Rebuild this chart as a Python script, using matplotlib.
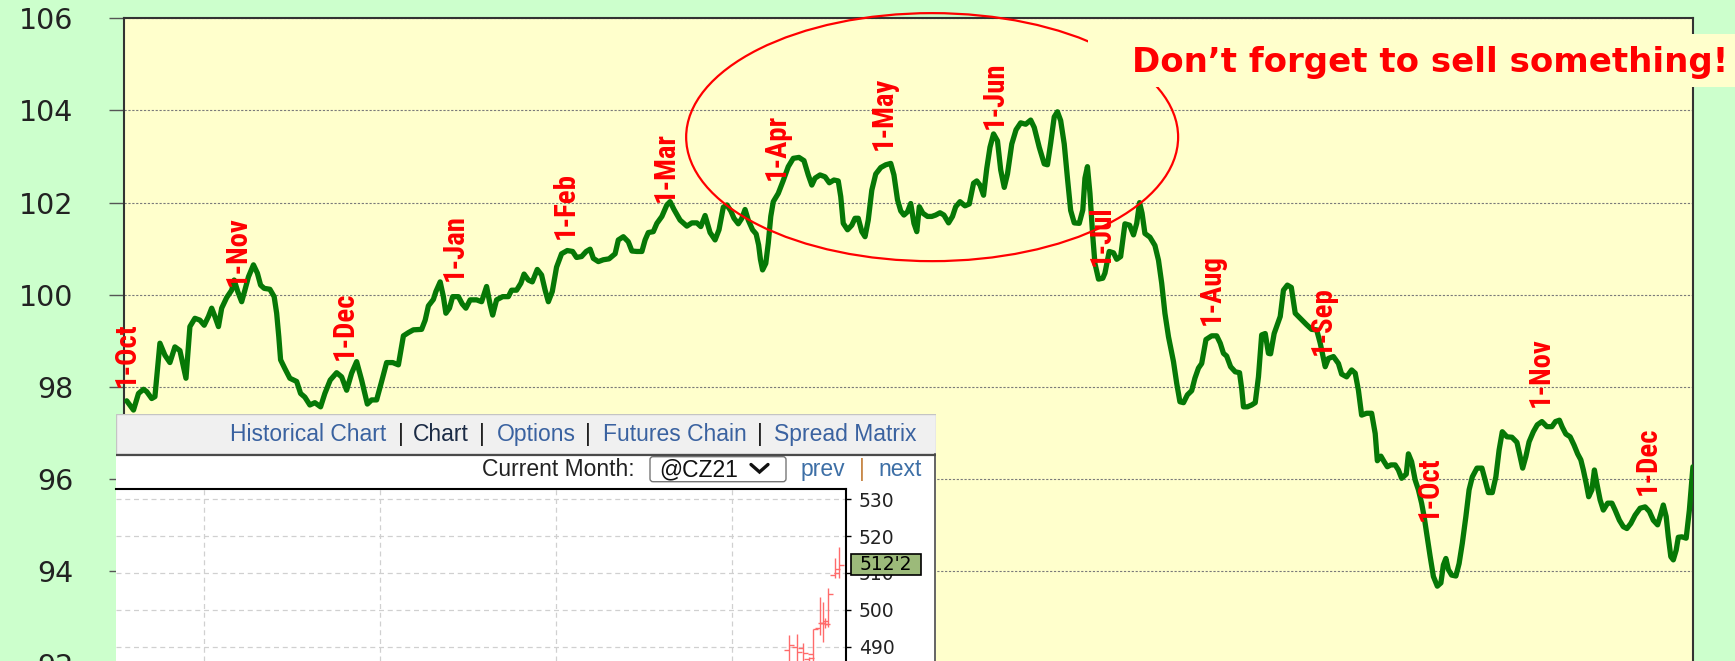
import matplotlib
matplotlib.use("Agg")
import matplotlib.pyplot as plt
import matplotlib.patches as mpatches
import matplotlib.transforms as mtransforms
from matplotlib.font_manager import FontProperties, findfont
import pandas as pd

# ---------------- data ----------------
start_date = pd.Timestamp("2020-10-01")

days = [
    0, 1.9, 3.3, 4.7, 5.6, 7.0, 7.9, 9.3, 10.7, 12.1,
    13.5, 14.9, 16.6, 17.7, 19.1, 20.5, 21.7, 22.9, 23.8, 24.7,
    25.7, 26.6, 28.0, 29.4, 30.1, 31.1, 32.2, 33.1, 34.1, 35.5,
    36.6, 37.5, 38.5, 40.1, 41.3, 42.0, 42.6, 43.1, 44.3, 45.7,
    47.6, 48.7, 49.9, 51.3, 52.7, 54.3, 55.5, 57.0, 58.8, 60.2,
    61.6, 63.0, 64.4, 65.8, 67.4, 68.6, 70.0, 71.4, 72.8, 74.5,
    76.1, 77.5, 78.9, 80.3, 82.6, 83.6, 84.5, 85.9, 86.6, 87.8,
    88.7, 89.4, 90.4, 91.3, 92.9, 94.0, 95.0, 96.2, 98.0, 99.4,
    100.8, 101.8, 102.5, 103.6, 105.3, 106.9, 107.8, 109.2, 110.4, 111.3,
    112.5, 113.6, 115.0, 116.2, 117.2, 118.1, 119.2, 120.4, 121.8, 123.4,
    124.9, 126.0, 127.4, 128.7, 129.8, 130.7, 132.1, 133.5, 135.1, 136.8,
    137.7, 139.1, 140.5, 141.5, 142.9, 144.3, 145.2, 146.1, 147.5, 148.5,
    149.9, 151.3, 152.2, 153.3, 155.0, 156.9, 158.3, 159.7, 160.8, 162.0,
    163.4, 164.8, 165.9, 167.1, 168.1, 169.2, 170.1, 171.3, 172.3, 173.2,
    174.1, 175.3, 176.3, 177.0, 177.5, 178.1, 179.0, 179.7, 180.4, 181.1,
    182.5, 183.9, 185.3, 186.7, 188.3, 189.7, 190.9, 191.9, 192.8, 194.2,
    195.6, 196.8, 198.1, 199.3, 200.0, 200.7, 201.9, 203.1, 204.0, 204.9,
    205.9, 206.8, 207.7, 208.7, 209.8, 211.2, 212.6, 214.0, 214.9, 215.9,
    216.8, 217.7, 218.7, 219.6, 220.5, 221.3, 222.0, 223.0, 224.3, 225.5,
    226.6, 227.8, 228.9, 230.2, 231.3, 232.2, 233.4, 234.8, 236.0, 237.2,
    238.1, 239.0, 240.0, 240.9, 241.8, 242.8, 243.9, 244.8, 245.8, 246.7,
    247.9, 249.1, 250.4, 251.8, 253.2, 254.2, 255.6, 257.0, 257.9, 258.8,
    259.8, 260.7, 261.6, 262.6, 263.5, 264.4, 265.4, 266.8, 267.8, 268.4,
    269.1, 269.8, 270.6, 271.2, 272.2, 273.4, 274.0, 275.2, 276.4, 277.3,
    278.4, 279.6, 280.9, 282.0, 282.9, 283.7, 284.4, 285.2, 286.6, 288.0,
    289.0, 289.9, 290.8, 291.8, 293.2, 294.1, 295.0, 296.0, 297.1, 298.3,
    299.2, 300.2, 301.1, 302.3, 303.9, 305.3, 306.3, 307.2, 308.1, 309.2,
    310.5, 311.7, 312.3, 312.8, 313.9, 315.1, 316.1, 317.0, 317.9, 318.9,
    319.8, 320.4, 321.4, 322.1, 323.1, 324.0, 325.1, 326.2, 327.3, 328.7,
    330.5, 331.9, 333.3, 334.3, 335.7, 336.6, 338.0, 339.4, 340.3, 341.7,
    343.1, 344.1, 345.0, 345.9, 347.3, 348.7, 349.7, 350.3, 351.3, 352.2,
    353.1, 354.1, 355.3, 356.2, 357.1, 358.4, 359.0, 359.9, 360.9, 361.8,
    362.7, 363.4, 364.1, 365.1, 366.0, 367.1, 368.1, 368.8, 369.5, 370.2,
    371.1, 372.3, 373.2, 374.1, 375.1, 376.0, 376.9, 378.2, 379.6, 380.5,
    381.4, 382.5, 383.5, 384.4, 385.3, 386.6, 388.0, 389.4, 390.1, 391.0,
    391.9, 392.8, 394.0, 395.1, 396.4, 397.8, 399.2, 400.2, 401.3, 402.1,
    403.1, 404.3, 405.4, 406.4, 407.3, 408.0, 408.8, 409.5, 410.4, 411.1,
    411.8, 412.7, 413.6, 414.8, 416.0, 416.9, 418.1, 419.2, 420.2, 421.3,
    422.5, 423.9, 425.3, 426.5, 427.6, 428.8, 429.5, 430.4, 431.2, 431.8,
    432.5, 433.2, 434.0, 434.6, 435.6, 436.8, 437.7, 438.7,
]

index_values = [
    97.70, 97.50, 97.86, 97.95, 97.90, 97.75, 97.79, 98.95, 98.69, 98.53,
    98.87, 98.79, 98.19, 99.31, 99.49, 99.45, 99.34, 99.53, 99.71, 99.53,
    99.31, 99.71, 99.94, 100.10, 100.32, 100.07, 99.85, 100.10, 100.39, 100.65,
    100.47, 100.21, 100.14, 100.12, 99.96, 99.60, 99.09, 98.59, 98.40, 98.19,
    98.12, 97.86, 97.78, 97.61, 97.66, 97.57, 97.86, 98.15, 98.31, 98.22,
    97.93, 98.30, 98.55, 98.15, 97.63, 97.72, 97.72, 98.12, 98.53, 98.53,
    98.48, 99.11, 99.18, 99.24, 99.25, 99.45, 99.76, 99.90, 100.07, 100.28,
    99.96, 99.60, 99.71, 99.96, 99.96, 99.80, 99.71, 99.89, 99.89, 99.85,
    100.18, 99.78, 99.56, 99.89, 99.96, 99.96, 100.10, 100.10, 100.25, 100.45,
    100.32, 100.28, 100.55, 100.43, 100.10, 99.85, 100.07, 100.60, 100.89, 100.96,
    100.94, 100.81, 100.83, 100.94, 100.99, 100.79, 100.72, 100.76, 100.78, 100.89,
    101.19, 101.26, 101.15, 100.95, 100.94, 100.94, 101.19, 101.35, 101.37, 101.55,
    101.70, 101.95, 102.02, 101.85, 101.62, 101.49, 101.56, 101.56, 101.48, 101.72,
    101.35, 101.19, 101.41, 101.90, 101.95, 101.82, 101.66, 101.54, 101.66, 101.85,
    101.62, 101.41, 101.32, 101.08, 100.77, 100.54, 100.68, 101.12, 101.70, 102.02,
    102.20, 102.48, 102.78, 102.96, 102.98, 102.91, 102.60, 102.38, 102.53, 102.60,
    102.56, 102.43, 102.49, 102.47, 102.13, 101.55, 101.41, 101.51, 101.66, 101.66,
    101.37, 101.26, 101.62, 102.27, 102.62, 102.76, 102.82, 102.85, 102.60, 102.06,
    101.82, 101.73, 101.80, 101.98, 101.55, 101.37, 101.91, 101.77, 101.70, 101.70,
    101.73, 101.78, 101.73, 101.56, 101.70, 101.91, 102.02, 101.93, 101.97, 102.42,
    102.47, 102.38, 102.16, 102.74, 103.20, 103.49, 103.34, 102.71, 102.33, 102.62,
    103.27, 103.58, 103.73, 103.70, 103.79, 103.63, 103.20, 102.84, 102.82, 103.29,
    103.86, 103.97, 103.78, 103.27, 102.53, 101.83, 101.56, 101.55, 101.84, 102.53,
    102.78, 102.20, 101.26, 100.68, 100.34, 100.36, 100.47, 100.94, 100.91, 100.77,
    100.83, 101.54, 101.51, 101.30, 101.55, 102.00, 101.77, 101.33, 101.25, 101.07,
    100.75, 100.25, 99.60, 99.09, 98.55, 98.08, 97.68, 97.66, 97.83, 97.92,
    98.19, 98.41, 98.51, 99.03, 99.11, 99.11, 98.95, 98.73, 98.67, 98.44,
    98.33, 98.31, 97.97, 97.57, 97.57, 97.61, 97.66, 98.22, 99.13, 99.16,
    98.73, 98.72, 99.16, 99.31, 99.53, 100.10, 100.21, 100.16, 99.60, 99.49,
    99.35, 99.25, 99.24, 98.95, 98.44, 98.62, 98.66, 98.51, 98.28, 98.22,
    98.37, 98.30, 97.93, 97.39, 97.43, 97.43, 96.99, 96.40, 96.50, 96.38,
    96.27, 96.31, 96.31, 96.20, 96.02, 96.11, 96.55, 96.38, 95.98, 95.77,
    95.48, 95.19, 94.83, 94.32, 93.89, 93.68, 93.75, 94.14, 94.28, 94.04,
    93.92, 93.90, 94.17, 94.61, 95.19, 95.77, 96.05, 96.24, 96.24, 95.98,
    95.71, 95.71, 96.05, 96.63, 97.03, 96.92, 96.91, 96.80, 96.56, 96.24,
    96.49, 96.81, 97.03, 97.18, 97.25, 97.14, 97.14, 97.25, 97.28, 97.13,
    96.98, 96.92, 96.74, 96.55, 96.42, 96.20, 95.91, 95.62, 95.77, 96.20,
    95.90, 95.55, 95.33, 95.48, 95.48, 95.33, 95.11, 94.97, 94.93, 95.04,
    95.22, 95.37, 95.40, 95.30, 95.11, 95.01, 95.19, 95.44, 95.19, 94.75,
    94.32, 94.25, 94.46, 94.74, 94.75, 94.72, 95.33, 96.27,
]
assert len(days) == len(index_values)

month_labels = ["1-Oct", "1-Nov", "1-Dec", "1-Jan", "1-Feb", "1-Mar", "1-Apr", "1-May",
                "1-Jun", "1-Jul", "1-Aug", "1-Sep", "1-Oct", "1-Nov", "1-Dec"]
month_dates = ["2020-10-01", "2020-11-01", "2020-12-01", "2021-01-01", "2021-02-01",
               "2021-03-01", "2021-04-01", "2021-05-01", "2021-06-01", "2021-07-01",
               "2021-08-01", "2021-09-01", "2021-10-01", "2021-11-01", "2021-12-01"]
month_label_base = [98.01, 100.19, 98.59, 100.31, 101.20, 102.02, 102.49, 103.14,
                    103.59, 100.62, 99.34, 98.69, 95.10, 97.56, 95.66]

y_ticks = [92, 94, 96, 98, 100, 102, 104, 106]
note_text = "Don\u2019t forget to sell something!"

# inset (pasted quote screenshot) data
header_items = ["Historical Chart", "|", "Chart", "|", "Options", "|", "Futures Chain", "|", "Spread Matrix"]
bar_pos = [168.4, 170.4, 171.9, 173.4, 174.3, 176.1, 176.8, 177.4, 178.2, 179.9, 180.9]
bar_open = [489.0, 490.0, 489.5, 486.5, 488.0, 495.0, 496.3, 496.5, 496.0, 509.5, 510.0]
bar_high = [493.1, 493.3, 490.9, 487.2, 494.8, 503.5, 502.2, 497.7, 505.8, 514.0, 517.1]
bar_low = [483.0, 483.0, 483.0, 483.0, 483.0, 493.1, 491.1, 495.1, 495.4, 508.5, 508.5]
bar_close = [490.5, 488.6, 488.2, 487.0, 494.8, 496.3, 497.0, 496.0, 504.2, 511.0, 512.25]
price_ticks = [490, 500, 510, 520, 530]
last_price = 512.25
last_price_label = "512'2"
contract = "@CZ21"


def pick_condensed_bold():
    cands = [("Liberation Sans Narrow", "normal"), ("Arial Narrow", "normal"),
             ("Roboto Condensed", "normal"), ("DejaVu Sans Condensed", "normal"),
             ("Noto Sans", "condensed"), ("Open Sans", "condensed"),
             ("DejaVu Sans", "condensed"), ("Roboto", "condensed")]
    for fam, st in cands:
        fp = FontProperties(family=fam, weight="bold", stretch=st)
        try:
            path = findfont(fp, fallback_to_default=False)
        except Exception:
            continue
        low = path.lower()
        if "narrow" in low or "condensed" in low or "cond" in low:
            return fam, st
    return "DejaVu Sans", "normal"


# ---------------- figure ----------------
W, H = 1735, 661
fig = plt.figure(figsize=(W / 100, H / 100), dpi=100, facecolor="#CCFFCC")


def fx(px):
    return px / W


def fy(py):
    return 1 - py / H


ax = fig.add_axes([fx(124), fy(663.6), fx(1693.3) - fx(124), fy(18.2) - fy(663.6)])
ax.set_facecolor("#FFFFCC")
ax.set_xlim(-0.76, 438.8)
ax.set_ylim(92, 106)
ax.set_yticks(y_ticks)
ax.set_xticks([])
ax.grid(axis="y", color="#7a7a7a", linestyle=(0, (2, 1.5)), linewidth=0.8)
ax.set_axisbelow(True)
ax.tick_params(axis="y", length=10.5, width=1, color="#555555", pad=26,
               labelsize=20.5, labelcolor="#222222")
for s in ["left", "top", "right"]:
    ax.spines[s].set_color("#333333")
    ax.spines[s].set_linewidth(1.5)
ax.spines["bottom"].set_visible(False)

ax.plot(days, index_values, color="#067806", lw=3.8, solid_joinstyle="round",
        solid_capstyle="round", zorder=3)

# month labels: condensed bold, sized so "1-Nov" is ~70 px long as in the reference
lab_fam, lab_stretch = pick_condensed_bold()
renderer = fig.canvas.get_renderer()
probe = ax.text(0, 100, "1-Nov", rotation=90, fontsize=20, fontweight="bold",
                family=lab_fam, stretch=lab_stretch)
probe_len = probe.get_window_extent(renderer=renderer).height
probe.remove()
lab_size = 20 * 70.0 / probe_len

for lab, d, yb in zip(month_labels, month_dates, month_label_base):
    xd = (pd.Timestamp(d) - start_date).days
    ax.text(xd, yb, lab, rotation=90, ha="center", va="bottom", color="#FF0000",
            fontsize=lab_size, fontweight="bold", family=lab_fam, stretch=lab_stretch,
            zorder=4, clip_on=False)

ax.add_patch(mpatches.Ellipse((225.6, 103.42), 137.8, 5.38, fill=False,
                              edgecolor="#FF0000", lw=1.6, zorder=5, clip_on=False))

# note box
fig.add_artist(mpatches.Rectangle((fx(1088), fy(87.4)), fx(1735) - fx(1088), fy(34) - fy(87.4),
                                  transform=fig.transFigure, facecolor="#FFFFCC",
                                  edgecolor="none", zorder=10))
fig.text(fx(1430), fy(72), note_text, ha="center", va="baseline", color="#FF0000",
         fontsize=24.5, fontweight="bold", family="DejaVu Sans", zorder=11)

# ---------------- inset panel ----------------
pan = fig.add_axes([fx(115.7), 0, fx(936) - fx(115.7), fy(414.3)], zorder=5)
pan.set_xlim(115.7, 936)
pan.set_ylim(661, 414.3)
pan.axis("off")
pan.add_patch(mpatches.Rectangle((115.7, 454.3), 820.3, 206.7, facecolor="white", edgecolor="none"))
pan.add_patch(mpatches.Rectangle((115.7, 414.3), 820.3, 40, facecolor="#F0F0F0",
                                 edgecolor="#C4C4C4", lw=1))
pan.plot([115.7, 936], [454.6, 454.6], color="#4A4A4A", lw=1.6)
pan.plot([934.8, 934.8], [454.3, 661], color="#4A4A4A", lw=1.2)

ui_font = 16.5
hdr_x = [308.5, 400.6, 441.2, 482.3, 536.0, 588.0, 674.5, 760.0, 845.5]
hdr_col = ["#3A62A0", "#222222", "#1B2B45", "#222222", "#3A62A0", "#222222", "#3A62A0",
           "#222222", "#3A62A0"]
for t, x, c in zip(header_items, hdr_x, hdr_col):
    pan.text(x, 441, t, ha="center", va="baseline", fontsize=ui_font, color=c,
             family="Liberation Sans")

pan.text(635, 476, "Current Month:", ha="right", va="baseline", fontsize=ui_font,
         color="#222222", family="Liberation Sans")
pan.add_patch(mpatches.FancyBboxPatch((650, 456.7), 136, 25, boxstyle="round,pad=0,rounding_size=3",
                                      facecolor="white", edgecolor="#777777", lw=1))
pan.text(659.5, 476, contract, ha="left", va="baseline", fontsize=ui_font, color="#111111",
         family="Liberation Sans")
pan.plot([751, 759.5, 768], [464.5, 472, 464.5], color="#111111", lw=2.4,
         solid_capstyle="round", solid_joinstyle="miter")
pan.text(822.5, 475.7, "prev", ha="center", va="baseline", fontsize=ui_font, color="#3D6FA6",
         family="Liberation Sans")
pan.text(862, 475.7, "|", ha="center", va="baseline", fontsize=ui_font, color="#C8894A",
         family="Liberation Sans")
pan.text(899.8, 475.7, "next", ha="center", va="baseline", fontsize=ui_font, color="#3D6FA6",
         family="Liberation Sans")

# inner price chart
inn = fig.add_axes([fx(115.7), 0, fx(846) - fx(115.7), fy(489.3)], zorder=6)
inn.set_facecolor("white")
inn.set_xlim(0, 182.58)
inn.set_ylim(486.06, 532.72)
for s in ["left", "bottom"]:
    inn.spines[s].set_visible(False)
for s in ["top", "right"]:
    inn.spines[s].set_color("black")
    inn.spines[s].set_linewidth(1.5)
inn.yaxis.tick_right()
inn.set_yticks(price_ticks)
inn.tick_params(axis="y", length=3.6, width=1, color="black", pad=5.8, labelsize=13.5,
                labelcolor="#222222")
inn.set_xticks([22.15, 66.08, 110.08, 154.08])
inn.tick_params(axis="x", length=0, labelbottom=False)
inn.grid(True, color="#D0D0D0", linestyle=(0, (4, 3)), lw=0.9)
inn.set_axisbelow(True)

tick_w = 1.2
inn.vlines(bar_pos, bar_low, bar_high, color="#FF6B6B", lw=1.0, zorder=3)
inn.hlines(bar_open, [p - tick_w for p in bar_pos], bar_pos, color="#FF6B6B", lw=1.0, zorder=3)
inn.hlines(bar_close, bar_pos, [p + tick_w for p in bar_pos], color="#FF6B6B", lw=1.0, zorder=3)

blend = mtransforms.blended_transform_factory(inn.transAxes, inn.transData)
inn.add_patch(mpatches.Rectangle((1.00644, last_price - 2.95), 0.09585, 5.9, transform=blend,
                                 facecolor="#9CBA7A", edgecolor="black", lw=1.2,
                                 clip_on=False, zorder=7))
inn.text(1.0544, last_price, last_price_label, transform=blend, ha="center", va="center",
         fontsize=13.5, color="black", zorder=8, clip_on=False)

fig.savefig("out.png", dpi=100, facecolor=fig.get_facecolor())
